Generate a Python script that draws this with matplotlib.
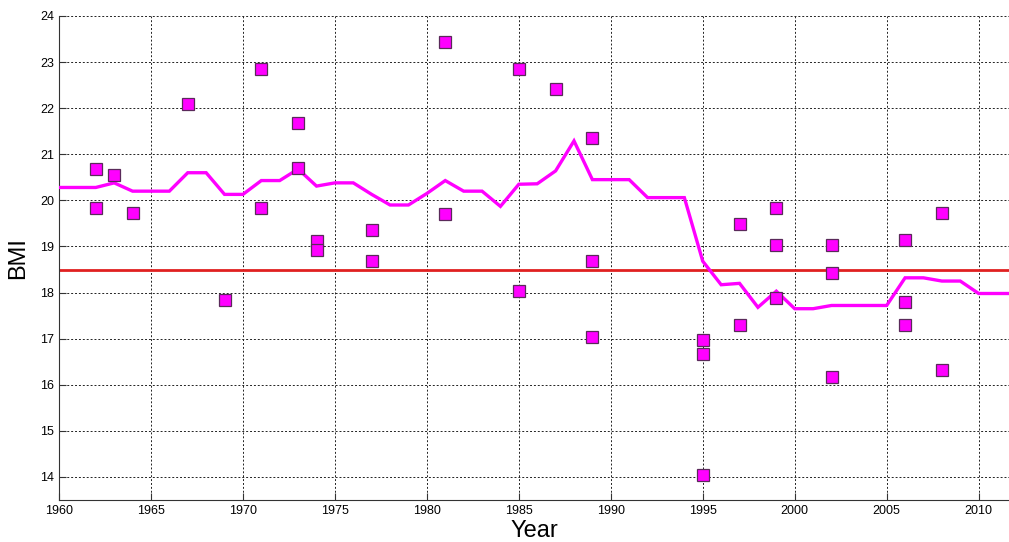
import matplotlib
matplotlib.use("Agg")
import matplotlib.pyplot as plt
import numpy as np

plt.rcParams['font.family'] = ['Liberation Sans', 'DejaVu Sans']

line_years = list(range(1960, 2013))
line_bmi = [20.28, 20.28, 20.28, 20.38, 20.2, 20.2, 20.2, 20.6, 20.6, 20.13,
            20.13, 20.43, 20.43, 20.68, 20.31, 20.38, 20.38, 20.13, 19.9, 19.9,
            20.15, 20.43, 20.2, 20.2, 19.87, 20.35, 20.36, 20.64, 21.29, 20.45,
            20.45, 20.45, 20.06, 20.06, 20.06, 18.68, 18.17, 18.2, 17.68, 18.03,
            17.65, 17.65, 17.72, 17.72, 17.72, 17.72, 18.32, 18.32, 18.25, 18.25,
            17.98, 17.98, 17.98]

pt_years = [1962, 1962, 1963, 1964, 1967, 1969, 1971, 1971, 1973, 1973, 1974, 1974,
            1977, 1977, 1981, 1981, 1985, 1985, 1987, 1989, 1989, 1989,
            1995, 1995, 1995, 1997, 1997, 1999, 1999, 1999, 2002, 2002, 2002,
            2006, 2006, 2006, 2008, 2008]
pt_bmi = [20.69, 19.84, 20.54, 19.72, 22.1, 17.84, 22.85, 19.84, 21.67, 20.7, 19.11, 18.93,
          19.36, 18.68, 23.44, 19.71, 22.85, 18.04, 22.41, 21.36, 18.68, 17.03,
          16.98, 16.67, 14.04, 19.48, 17.3, 19.84, 19.04, 17.88, 19.04, 18.42, 16.16,
          19.13, 17.79, 17.3, 19.72, 16.32]

threshold = 18.5

fig = plt.figure(figsize=(10.09, 5.42), dpi=100)
ax = fig.add_axes([59/1009, 1-500/542, 1-59/1009, (500-16)/542])

ax.axhline(threshold, color='#e02020', lw=2.0, zorder=2)
ax.plot(line_years, line_bmi, color='#ff00ff', lw=2.4, zorder=3, solid_joinstyle='miter')
ax.plot(pt_years, pt_bmi, linestyle='none', marker='s', markersize=8,
        markerfacecolor='#ff00ff', markeredgecolor='#5a2a5a', markeredgewidth=0.9, zorder=4)

ax.set_xlim(1960, 2011.65)
ax.set_ylim(13.5, 24)
ax.set_xticks(range(1960, 2011, 5))
ax.set_yticks(range(14, 25))
ax.grid(True, color='#222222', linestyle=(0, (2, 2)), linewidth=0.7)
ax.set_axisbelow(True)
for s in ['top', 'right']:
    ax.spines[s].set_visible(False)
ax.spines['left'].set_color('#333333')
ax.spines['bottom'].set_color('#333333')
ax.tick_params(direction='in', length=5, labelsize=9, colors='#333333', labelcolor='black')
ax.set_xlabel('Year', fontsize=17, labelpad=2)
ax.set_ylabel('BMI', fontsize=17, labelpad=8)

fig.savefig('out.png', dpi=100)
